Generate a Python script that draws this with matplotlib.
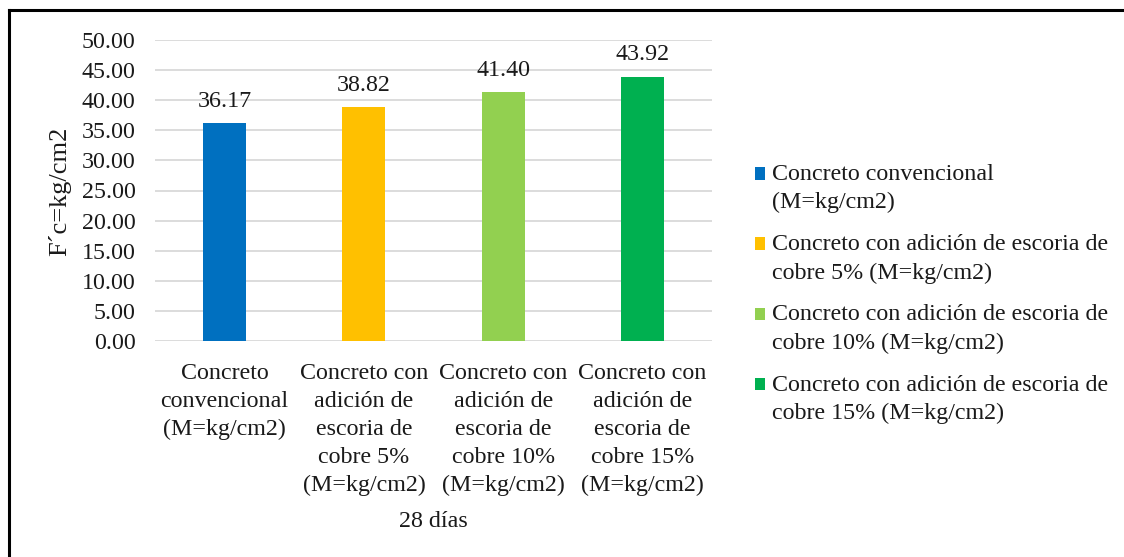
import matplotlib
matplotlib.use("Agg")
import matplotlib.pyplot as plt
from matplotlib.lines import Line2D

# resistencia a compresion a los 28 dias
categorias = [
    "Concreto\nconvencional\n(M=kg/cm2)",
    "Concreto con\nadición de\nescoria de\ncobre 5%\n(M=kg/cm2)",
    "Concreto con\nadición de\nescoria de\ncobre 10%\n(M=kg/cm2)",
    "Concreto con\nadición de\nescoria de\ncobre 15%\n(M=kg/cm2)",
]
series = [
    "Concreto convencional\n(M=kg/cm2)",
    "Concreto con adición de escoria de\ncobre 5% (M=kg/cm2)",
    "Concreto con adición de escoria de\ncobre 10% (M=kg/cm2)",
    "Concreto con adición de escoria de\ncobre 15% (M=kg/cm2)",
]
valores = [36.17, 38.82, 41.40, 43.92]
colores = ["#0070C0", "#FFC000", "#92D050", "#00B050"]
yticks = [0, 5, 10, 15, 20, 25, 30, 35, 40, 45, 50]

fuente = ["Liberation Serif", "DejaVu Serif"]
plt.rcParams["font.family"] = fuente
fs = 17.3
gris = "#1a1a1a"

fig = plt.figure(figsize=(11.24, 5.57), dpi=100)
ax = fig.add_axes([155/1124, 1 - 341/557, (712 - 155)/1124, (341 - 40)/557])

for i in range(len(valores)):
    ax.bar(i, valores[i], width=0.31, color=colores[i], label=series[i], zorder=3)
    ax.annotate("%.2f" % valores[i], (i, valores[i]), xytext=(0, 8),
                textcoords="offset points", ha="center", va="bottom",
                fontsize=fs, color=gris, family=fuente)

ax.set_xlim(-0.5, 3.5)
ax.set_ylim(0, 50)
ax.set_yticks(yticks)
ax.set_yticklabels(["%.2f" % v for v in yticks], fontsize=fs, color=gris, family=fuente)
ax.set_xticks(range(len(categorias)))
ax.set_xticklabels(categorias, fontsize=fs, color=gris, linespacing=1.43, family=fuente)
ax.tick_params(axis="both", length=0)
ax.tick_params(axis="y", pad=14)
ax.tick_params(axis="x", pad=16)
ax.grid(axis="y", color="#D9D9D9", linewidth=1.3, zorder=0)
for s in ax.spines.values():
    s.set_visible(False)

ax.set_xlabel("28 días", fontsize=fs, color=gris, labelpad=10.5, family=fuente)
fig.text(60/1124, 1 - 191/557, "F´c=kg/cm2", rotation=90, fontsize=19,
         ha="center", va="center", color=gris, family=fuente)

leg = fig.legend(loc="center left", bbox_to_anchor=(733/1124, 1 - 294/557),
                 frameon=False, fontsize=fs, handlelength=0.42, handleheight=0.42,
                 handletextpad=0.3, labelspacing=0.87)
for t in leg.get_texts():
    t.set_linespacing(1.43)
    t.set_color(gris)
    t.set_family(fuente)
# el cuadrado va a la altura de la primera linea del texto
for col in leg._legend_handle_box.get_children():
    for item in col.get_children():
        item.align = "top"
for h in leg.legend_handles:
    h.set_y(h.get_y() - 2.2)

# marco de la figura (solo arriba e izquierda)
fig.add_artist(Line2D([9/1124, 1], [1 - 10/557, 1 - 10/557], color="black", linewidth=2.2))
fig.add_artist(Line2D([9/1124, 9/1124], [0, 1 - 10/557], color="black", linewidth=2.2))

fig.savefig("out.png", dpi=100)
